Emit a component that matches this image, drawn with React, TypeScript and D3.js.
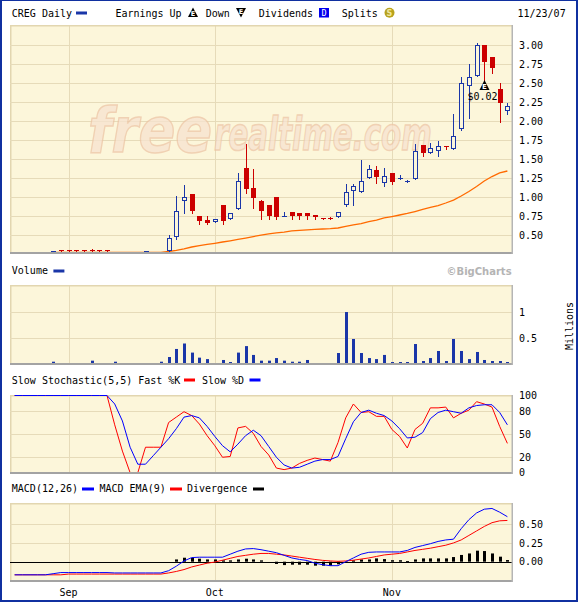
import React from 'react';
import * as d3 from 'd3';

const dates = [
  "08/23","08/24","08/27","08/28","08/29","08/30","08/31",
  "09/04","09/05","09/06","09/07","09/10","09/11","09/12","09/13","09/14","09/17","09/18","09/19","09/20","09/21","09/24","09/25","09/26","09/27","09/28",
  "10/01","10/02","10/03","10/04","10/05","10/08","10/09","10/10","10/11","10/12","10/15","10/16","10/17","10/18","10/19","10/22","10/23","10/24","10/25","10/26","10/29","10/30","10/31",
  "11/01","11/02","11/05","11/06","11/07","11/08","11/09","11/12","11/13","11/14","11/15","11/16","11/19","11/20","11/21","11/23"
];
const monthNames = ["Sep","Oct","Nov"];
const monthKeys = ["09","10","11"];

const N = null;
const opens = [N,N,N,N,N,0.30,0.305,0.305,0.305,0.305,0.305,0.305,0.305,N,N,N,N,0.30,N,N,
  0.30,0.48,0.95,1.04,0.75,0.70,0.67,0.90,0.71,0.85,
  1.385,1.12,0.955,0.90,1.00,0.75,0.81,0.80,0.80,0.767,
  0.725,0.725,0.737,0.90,1.08,1.074,1.26,1.36,1.19,1.32,
  1.235,1.20,1.237,1.69,1.587,1.61,1.675,1.64,1.895,2.47,
  2.595,3.00,2.84,2.42,2.14];
const highs = [N,N,N,N,N,0.30,0.305,0.305,0.305,0.305,0.32,0.305,0.305,N,N,N,N,0.30,N,N,
  0.50,1.02,1.16,1.04,0.75,0.75,0.71,0.90,0.79,1.32,
  1.70,1.37,0.965,0.90,1.00,0.81,0.81,0.80,0.80,0.767,
  0.725,0.74,0.807,1.17,1.17,1.495,1.43,1.415,1.385,1.32,
  1.29,1.23,1.70,1.69,1.72,1.74,1.675,2.09,2.585,2.76,
  3.03,3.01,2.84,2.50,2.245];
const lows = [N,N,N,N,N,0.30,0.30,0.30,0.30,0.30,0.30,0.30,0.30,N,N,N,N,0.30,N,N,
  0.30,0.45,0.80,0.80,0.65,0.65,0.67,0.65,0.71,0.85,
  1.06,0.86,0.72,0.72,0.72,0.75,0.72,0.72,0.72,0.72,
  0.72,0.72,0.737,0.885,0.90,1.074,1.26,1.19,1.15,1.18,
  1.235,1.20,1.237,1.55,1.587,1.55,1.64,1.64,1.885,2.05,
  2.595,2.50,2.64,1.995,2.09];
const closes = [N,N,N,N,N,0.30,0.30,0.30,0.30,0.30,0.30,0.30,0.30,N,N,N,N,0.30,N,N,
  0.46,0.82,1.01,0.82,0.69,0.665,0.71,0.69,0.79,1.22,
  1.11,0.995,0.82,0.76,0.74,0.755,0.754,0.76,0.76,0.74,
  0.72,0.72,0.807,1.065,1.145,1.21,1.37,1.27,1.276,1.20,
  1.25,1.21,1.605,1.587,1.65,1.67,1.66,1.81,2.50,2.585,
  3.01,2.78,2.705,2.237,2.20];
const movingAvg = [0.263,0.263,0.263,0.263,0.263,
  0.276,0.276,0.276,0.276,0.276,0.276,0.276,0.276,0.276,0.276,0.276,0.276,0.276,0.276,0.276,
  0.287,0.303,0.322,0.346,0.364,0.38,0.395,0.412,0.428,0.445,
  0.464,0.484,0.501,0.52,0.533,0.543,0.557,0.566,0.572,0.578,
  0.583,0.588,0.596,0.616,0.636,0.655,0.68,0.70,0.728,0.747,
  0.767,0.787,0.813,0.84,0.866,0.892,0.925,0.964,1.017,1.076,
  1.142,1.214,1.273,1.32,1.346];
const volumes = [0,0,0,0,0,0.05,0,0,0,0,0.07,0,0,0.05,0,0,0,0,0,0.05,
  0.14,0.295,0.40,0.225,0.128,0.10,0,0.083,0.044,0.225,
  0.35,0.18,0.07,0.07,0.12,0.07,0.05,0.05,0.083,0,
  0,0,0.217,1.005,0.487,0.217,0.12,0.10,0.18,0.044,
  0.044,0.044,0.39,0.063,0.12,0.256,0.063,0.487,0.256,0.10,
  0.237,0.083,0.063,0.063,0.044];
const fastK = [100,100,100,100,100,100,100,100,100,100,100,100,100,62,28,0,0,33,33,33,
  65,72,79,74,63,48,35,20,21,58,
  60,51,34,23,6,4,6,12,16,19,
  17,15,39,71,89,78,79,73,73,56,
  47,32,56,64,84,84,85,71,77,81,
  92,89,85,60,38];
const slowD = [100,100,100,100,100,100,100,100,100,100,100,100,100,89,67,33,11,11,22,33,
  44,57,72,74,71,60,47,35,27,37,
  48,55,48,34,20,10,6,7,11,15,
  17,17,21,44,66,78,81,77,74,67,
  57,45,46,52,70,78,81,79,77,84,
  87,88,88,78,62];
const macd = [-0.175,-0.175,-0.175,-0.175,-0.175,-0.16,
  -0.145,-0.145,-0.145,-0.145,-0.145,-0.145,-0.145,
  -0.15,-0.15,-0.15,-0.15,-0.15,-0.15,-0.15,
  -0.12,-0.06,0.01,0.055,0.06,0.06,0.06,0.06,0.10,0.14,
  0.17,0.175,0.16,0.14,0.12,0.085,0.05,0.03,0.016,-0.02,
  -0.04,-0.053,-0.053,0.0,0.05,0.10,0.125,0.13,0.13,0.13,
  0.13,0.15,0.19,0.215,0.24,0.27,0.29,0.30,0.44,0.56,
  0.65,0.70,0.71,0.66,0.60];
const signal = [-0.175,-0.175,-0.175,-0.175,-0.175,-0.175,-0.175,
  -0.165,-0.165,-0.165,-0.165,-0.165,-0.165,-0.165,-0.165,-0.165,-0.165,-0.165,-0.165,-0.165,
  -0.15,-0.13,-0.105,-0.07,-0.045,-0.02,-0.005,0.02,0.045,0.07,
  0.085,0.10,0.11,0.11,0.10,0.09,0.075,0.06,0.045,0.03,
  0.018,0.01,0.005,0.01,0.02,0.035,0.05,0.07,0.09,0.10,
  0.11,0.13,0.15,0.165,0.18,0.20,0.22,0.25,0.29,0.35,
  0.41,0.47,0.52,0.545,0.55];
const divergence = [0,0,0,0,0,0,0,0,0,0,0,0,0,0,0,0,0,0,0,0,0,
  0.03,0.053,0.05,0.04,0.03,0.03,0.018,0.018,0.03,
  0.04,0.03,0.018,0,-0.03,-0.045,-0.04,-0.04,-0.04,-0.053,
  -0.053,-0.053,-0.035,-0.01,0.018,0.03,0.03,0.044,0.035,0.02,
  0.02,0.008,0.03,0.044,0.044,0.044,0.044,0.062,0.09,0.11,
  0.147,0.142,0.11,0.067,0.022];

const priceTicks = [0.5,0.75,1.0,1.25,1.5,1.75,2.0,2.25,2.5,2.75,3.0];
const volumeTicks = [0.5, 1];
const volumeTickLabels = ["0.5", "1"];
const stochGrid = [20, 50, 80];
const stochTicks = [0, 20, 50, 80, 100];
const macdGrid = [0.25, 0.5];
const macdTicks = [0, 0.25, 0.5];
const earningsDate = "11/19";
const earningsLabel = "$0.02";

const MONO = "'DejaVu Sans Mono', monospace";
const SANS = "'DejaVu Sans', sans-serif";
const BG = "#FCF6DA";
const GRID = "#E6DBB9";
const CBLUE = "#1A36A8";
const CRED = "#CC0000";
const LBLUE = "#0000FF";
const LRED = "#FF0000";

export default function App() {
  const L = 10, R = 512;
  const x = d3.scaleLinear().domain([-0.6, 64.6]).range([L, R]);
  const cx = (i: number) => Math.round(x(i));
  const yP = d3.scaleLinear().domain([0.5, 3.0]).range([235.3, 45.3]);
  const yV = d3.scaleLinear().domain([0, 1]).range([364.3, 312.3]);
  const yS = d3.scaleLinear().domain([0, 100]).range([472.7, 395.5]);
  const yM = d3.scaleLinear().domain([0, 0.5]).range([561.7, 524.2]);

  const panels = [
    { top: 25, bottom: 253 },
    { top: 285, bottom: 364 },
    { top: 395, bottom: 473 },
    { top: 503, bottom: 581 },
  ];
  const monthIdx = monthKeys.map(k => dates.findIndex(d => d.startsWith(k + "/")));

  const lineOf = (arr: number[], ys: (v: number) => number) =>
    d3.line<number>().x((_, i) => x(i)).y(v => ys(v))(arr) || "";

  const crisp = (v: number) => Math.round(v) + 0.5;
  const eIdx = dates.indexOf(earningsDate);

  const panelFrame = (p: { top: number; bottom: number }, k: number) => (
    <g key={"pf" + k}>
      <rect x={L} y={p.top} width={R - L} height={p.bottom - p.top} fill={BG} />
      {monthIdx.map((mi, j) => (
        <line key={j} x1={crisp(x(mi))} x2={crisp(x(mi))} y1={p.top} y2={p.bottom} stroke={GRID} strokeWidth={1} />
      ))}
      <rect x={L} y={p.top} width={R - L} height={1.5} fill="#E2D6B0" />
      <rect x={L} y={p.top} width={1.5} height={p.bottom - p.top} fill="#E2D6B0" />
    </g>
  );
  const panelBorder = (p: { top: number; bottom: number }, k: number) => (
    <g key={"pb" + k}>
      <rect x={L} y={p.bottom - 1} width={R - L + 1} height={2} fill="#A3A3A3" />
      <rect x={R - 0.5} y={p.top} width={1.5} height={p.bottom - p.top + 1} fill="#B5B5B5" />
    </g>
  );

  const t = (s: string, xx: number, yy: number, extra: any = {}) => (
    <text x={xx} y={yy} fontFamily={MONO} fontSize={10} fill="#000" {...extra}>{s}</text>
  );

  return (
    <svg width={578} height={602} style={{ position: 'absolute', left: 0, top: 0, background: '#fff' }}
      xmlns="http://www.w3.org/2000/svg">
      <defs>
        <clipPath id="pclip"><rect x={L} y={25} width={R - L} height={228} /></clipPath>
      </defs>
      <rect x={0} y={0} width={578} height={602} fill="#fff" />

      {panels.map(panelFrame)}

      {/* price grid */}
      {priceTicks.map((v, j) => (
        <line key={j} x1={L} x2={R} y1={crisp(yP(v))} y2={crisp(yP(v))} stroke={GRID} />
      ))}
      {/* watermark */}
      <g clipPath="url(#pclip)" opacity={0.75}>
        <text transform="translate(88,152) scale(0.876,1)" fontFamily={SANS} fontWeight="bold" fontStyle="italic"
          fontSize={62} fill="#F7E3D0" stroke="#EDC5A6" strokeWidth={1.5}>free</text>
        <text transform="translate(214,150) scale(0.637,1)" fontFamily={SANS} fontWeight="bold" fontStyle="italic"
          fontSize={46} fill="#F7E3D0" stroke="#EDC5A6" strokeWidth={1.5}>realtime.com</text>
      </g>
      {/* moving average */}
      <path d={lineOf(movingAvg, yP)} fill="none" stroke="#FF6A00" strokeWidth={1.3} clipPath="url(#pclip)" />
      {/* candles */}
      {dates.map((d, i) => {
        const o = opens[i], h = highs[i], l = lows[i], c = closes[i];
        if (o == null || h == null || l == null || c == null) return null;
        const px = cx(i);
        const up = c >= o;
        const col = up ? CBLUE : CRED;
        const top = Math.round(yP(Math.max(o, c)));
        const bot = Math.round(yP(Math.min(o, c)));
        const bh = bot - top;
        return (
          <g key={d}>
            <line x1={px + 0.5} x2={px + 0.5} y1={Math.round(yP(h))} y2={Math.round(yP(l)) + 1} stroke={col} strokeWidth={1} />
            {up ? (
              bh <= 2 ? (
                <rect x={px - 2} y={top} width={5} height={Math.max(bh, 1)} fill={col} />
              ) : (
                <rect x={px - 1.5} y={top + 0.5} width={4} height={bh - 1} fill={BG} stroke={col} strokeWidth={1} />
              )
            ) : (
              <rect x={px - 2} y={top} width={5} height={Math.max(bh, 1)} fill={col} />
            )}
          </g>
        );
      })}
      {/* earnings marker */}
      <g>
        <path d={`M${cx(eIdx) + 0.5},${80} L${cx(eIdx) + 5.5},${90} L${cx(eIdx) - 4.5},${90} Z`} fill="#000" />
        <text x={cx(eIdx) + 0.5} y={89} fontFamily={SANS} fontWeight="bold" fontSize={7} fill="#fff" textAnchor="middle">E</text>
        {t(earningsLabel, 467.5, 99.5)}
      </g>

      {/* volume */}
      {volumeTicks.map((v, j) => (
        <line key={j} x1={L} x2={R} y1={crisp(yV(v))} y2={crisp(yV(v))} stroke={GRID} />
      ))}
      {volumes.map((v, i) => v > 0 ? (
        <rect key={i} x={cx(i) - 1} y={yV(v)} width={3} height={yV(0) - yV(v)} fill={CBLUE} />
      ) : null)}

      {/* stochastic */}
      {stochGrid.map((v, j) => (
        <line key={j} x1={L} x2={R} y1={crisp(yS(v))} y2={crisp(yS(v))} stroke={GRID} />
      ))}
      <path d={lineOf(fastK, yS)} fill="none" stroke={LRED} strokeWidth={1} />
      <path d={lineOf(slowD, yS)} fill="none" stroke={LBLUE} strokeWidth={1} />

      {/* macd */}
      {macdGrid.map((v, j) => (
        <line key={j} x1={L} x2={R} y1={crisp(yM(v))} y2={crisp(yM(v))} stroke={GRID} />
      ))}
      {divergence.map((v, i) => v !== 0 ? (
        <rect key={i} x={cx(i) - 1} y={v > 0 ? yM(v) : yM(0)} width={3} height={Math.max(Math.abs(yM(v) - yM(0)), 1)} fill="#000" />
      ) : null)}
      <line x1={L} x2={R} y1={crisp(yM(0))} y2={crisp(yM(0))} stroke="#000" strokeWidth={1} />
      <path d={lineOf(signal, yM)} fill="none" stroke={LRED} strokeWidth={1} />
      <path d={lineOf(macd, yM)} fill="none" stroke={LBLUE} strokeWidth={1} />

      {panels.map(panelBorder)}

      {/* axis labels */}
      {priceTicks.map((v, j) => <g key={j}>{t(v.toFixed(2), 519, yP(v) + 3.6)}</g>)}
      {volumeTicks.map((v, j) => <g key={j}>{t(volumeTickLabels[j], 519, yV(v) + 3.6)}</g>)}
      {stochTicks.map((v, j) => <g key={j}>{t(String(v), 519, yS(v) + 3.6)}</g>)}
      {macdTicks.map((v, j) => <g key={j}>{t(v.toFixed(2), 519, yM(v) + 3.6)}</g>)}
      <text transform="translate(573,326) rotate(-90)" fontFamily={MONO} fontSize={10} textAnchor="middle">Millions</text>
      {monthIdx.map((mi, j) => <g key={j}>{t(monthNames[j], x(mi), 595.5, { textAnchor: "middle" })}</g>)}

      {/* header legend */}
      {t("CREG Daily", 11.8, 16.5)}
      <rect x={76} y={11.5} width={11} height={3} fill={CBLUE} />
      {t("Earnings Up", 115.4, 16.5)}
      <path d="M193,7.5 L198,17 L188,17 Z" fill="#000" />
      <text x={193} y={16} fontFamily={SANS} fontWeight="bold" fontSize={6.5} fill="#fff" textAnchor="middle">E</text>
      {t("Down", 205.7, 16.5)}
      <path d="M236,8 L246,8 L241,17.5 Z" fill="#000" />
      <text x={241} y={14} fontFamily={SANS} fontWeight="bold" fontSize={6.5} fill="#fff" textAnchor="middle">E</text>
      {t("Dividends", 258.8, 16.5)}
      <rect x={319} y={8} width={10} height={9.5} fill="#0000EE" />
      <text x={324} y={16} fontFamily={MONO} fontSize={8.5} fill="#fff" textAnchor="middle">D</text>
      {t("Splits", 341.7, 16.5)}
      <circle cx={389.5} cy={12.7} r={5} fill="#B8A21C" />
      <text x={389.5} y={15.8} fontFamily={SANS} fontWeight="bold" fontSize={8} fill="#F0E6A0" textAnchor="middle">S</text>
      {t("11/23/07", 517.5, 16.5)}

      {t("Volume", 11.8, 274)}
      <rect x={53.4} y={269.5} width={11} height={3} fill={CBLUE} />
      <text x={511.6} y={275} fontFamily={SANS} fontWeight="bold" fontSize={10} fill="#B4B4B4" textAnchor="end">©BigCharts</text>

      {t("Slow Stochastic(5,5) Fast %K", 11.8, 383.5)}
      <rect x={184} y={378.5} width={11} height={3} fill={LRED} />
      {t("Slow %D", 202, 383.5)}
      <rect x={249.5} y={378.5} width={11} height={3} fill={LBLUE} />

      {t("MACD(12,26)", 11.8, 492)}
      <rect x={82} y={487.5} width={12} height={3} fill={LBLUE} />
      {t("MACD EMA(9)", 99.5, 492)}
      <rect x={170} y={487.5} width={12} height={3} fill={LRED} />
      {t("Divergence", 187, 492)}
      <rect x={253} y={487.5} width={11} height={3} fill="#000" />

      {/* outer frame */}
      <rect x={0} y={0} width={578} height={1} fill="#1030A0" />
      <rect x={0} y={0} width={2} height={602} fill="#1030A0" />
      <rect x={576} y={0} width={2} height={602} fill="#1030A0" />
      <rect x={0} y={600} width={578} height={2} fill="#1030A0" />
    </svg>
  );
}
